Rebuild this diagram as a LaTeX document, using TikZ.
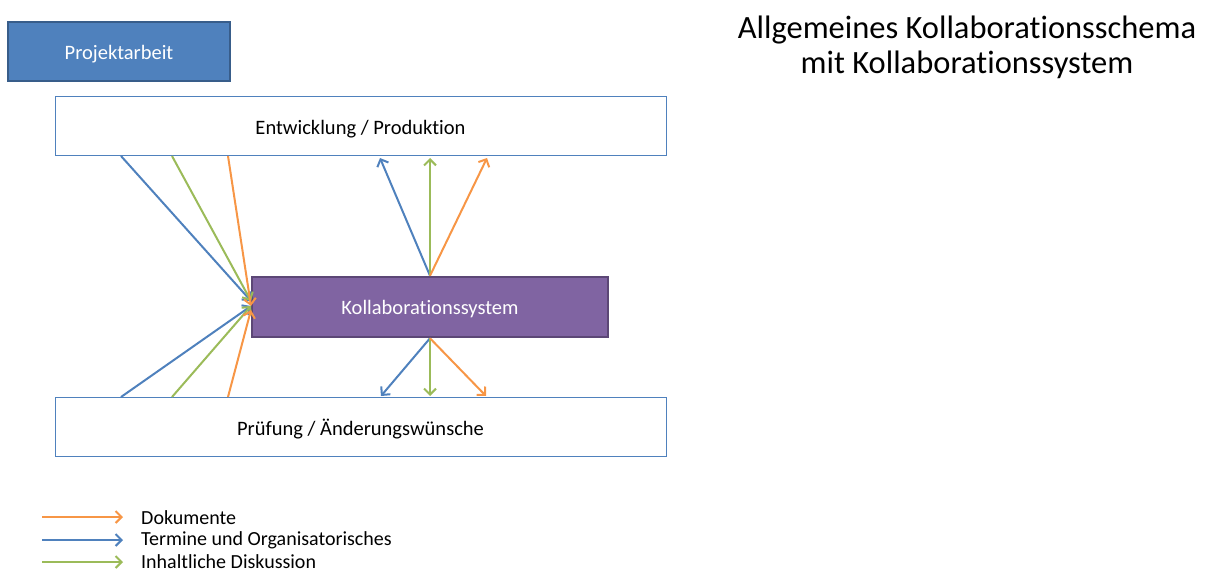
\documentclass[tikz,border=0pt]{standalone}
\usepackage{fontspec}
\setmainfont{Carlito}[Ligatures=NoCommon]
\usetikzlibrary{arrows.meta}
\definecolor{cblue}{HTML}{4F81BD}
\definecolor{cbluedark}{HTML}{385D8A}
\definecolor{corange}{HTML}{F79646}
\definecolor{cgreen}{HTML}{9BBB59}
\definecolor{cpurple}{HTML}{8064A2}
\definecolor{cpurpledark}{HTML}{5C4776}
\newcommand{\lowtext}[1]{\raisebox{-2.5pt}[\height][\depth]{#1}}
\tikzset{
  box/.style={draw=cblue, line width=1pt, fill=white, minimum width=611pt, minimum height=59pt, inner sep=0pt, font=\fontsize{20.5}{24}\selectfont},
  conn/.style={line width=2pt, -{Straight Barb[length=6pt,width=12pt]}},
  legtext/.style={anchor=west, inner sep=0pt, font=\fontsize{20}{24}\selectfont}
}
\begin{document}
\begin{tikzpicture}[x=1pt,y=-1pt]
\useasboundingbox (0,0) rectangle (1206,572);
\node[draw=cbluedark, line width=2.5pt, fill=cblue, text=white, minimum width=222pt, minimum height=59pt, inner sep=0pt, font=\fontsize{20.5}{24}\selectfont] (proj) at (119,51.5) {\lowtext{Projektarbeit}};
\node[box] (entw) at (360.5,126.5) {\lowtext{Entwicklung / Produktion}};
\node[box] (pruef) at (360.5,426.5) {\lowtext{Prüfung / Änderungswünsche}};
\node[draw=cpurpledark, line width=2.5pt, fill=cpurple, text=white, minimum width=356pt, minimum height=60pt, inner sep=0pt, font=\fontsize{20.5}{24}\selectfont] (koll) at (430,307) {\lowtext{Kollaborationssystem}};
\node[align=center, inner sep=0pt, font=\fontsize{32.5}{35}\selectfont] (title) at (967,47) {Allgemeines Kollaborationsschema\\mit Kollaborationssystem};
% start points on boxes
\coordinate (tb) at (121,156);
\coordinate (tg) at (172,156);
\coordinate (to) at (228,156);
\coordinate (bb) at (121,397);
\coordinate (bg) at (172,397);
\coordinate (bo) at (228,397);
\coordinate (kin1) at (251,301);
\coordinate (kin2) at (251,306);
\coordinate (kin3) at (251,310);
\coordinate (ub) at (380,158);
\coordinate (ug) at (430,158);
\coordinate (uo) at (487,158);
\coordinate (db) at (381,396);
\coordinate (dg) at (430,396);
\coordinate (do) at (486,396);
\draw[conn, cblue] (tb) -- (kin1);
\draw[conn, cgreen] (tg) -- (kin1);
\draw[conn, corange] (to) -- (kin2);
\draw[conn, cblue] (bb) -- (kin2);
\draw[conn, cgreen] (bg) -- (kin2);
\draw[conn, corange] (bo) -- (kin3);
\draw[conn, cblue] (koll.north) -- (ub);
\draw[conn, cgreen] (koll.north) -- (ug);
\draw[conn, corange] (koll.north) -- (uo);
\draw[conn, cblue] (koll.south) -- (db);
\draw[conn, cgreen] (koll.south) -- (dg);
\draw[conn, corange] (koll.south) -- (do);
% legend
\coordinate (l1a) at (42,517); \coordinate (l1b) at (123,517);
\coordinate (l2a) at (42,540); \coordinate (l2b) at (123,540);
\coordinate (l3a) at (42,562); \coordinate (l3b) at (123,562);
\draw[conn, corange] (l1a) -- (l1b);
\draw[conn, cblue] (l2a) -- (l2b);
\draw[conn, cgreen] (l3a) -- (l3b);
\node[legtext] (t1) at (141,518) {Dokumente};
\node[legtext] (t2) at (141,540.5) {Termine und Organisatorisches};
\node[legtext] (t3) at (141,561.5) {Inhaltliche Diskussion};
\end{tikzpicture}
\end{document}
